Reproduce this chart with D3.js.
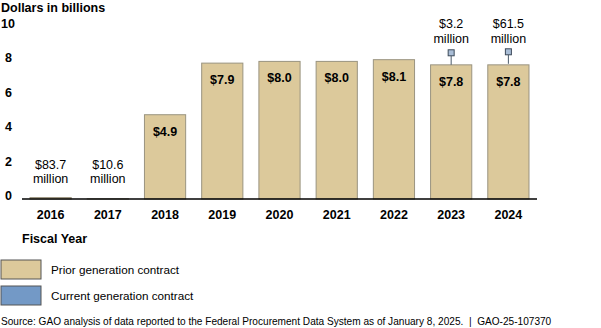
<!DOCTYPE html>
<html>
<head>
<meta charset="utf-8">
<script src="https://cdn.jsdelivr.net/npm/d3@7"></script>
<style>
  body { margin: 0; background: #fff; }
  svg { font-family: "Liberation Sans", Arial, sans-serif; }
</style>
</head>
<body>
<script>
// chart size
let w = 601;
let h = 328;

// data
let years = ["2016", "2017", "2018", "2019", "2020", "2021", "2022", "2023", "2024"];
let prior = [0.0837, 0.0106, 4.9, 7.9, 8.0, 8.0, 8.1, 7.8, 7.8];        // billions
let current = [0, 0, 0, 0, 0, 0, 0, 0.0032, 0.0615];                      // billions
let priorLabels = [["$83.7", "million"], ["$10.6", "million"], "$4.9", "$7.9", "$8.0", "$8.0", "$8.1", "$7.8", "$7.8"];
let currentLabels = ["", "", "", "", "", "", "", "$3.2 million", "$61.5 million"];
let yTicks = [0, 2, 4, 6, 8, 10];
let legendItems = ["Prior generation contract", "Current generation contract"];

let colPrior = "#dcc99b";
let colCurrent = "#7399c6";

let svg = d3.select("body").append("svg")
  .attr("width", w)
  .attr("height", h);

let x = d3.scaleBand().domain(years).range([22, 537]).paddingInner(0.28).paddingOuter(0.14);
let y = d3.scaleLinear().domain([0, 10]).range([199, 27]);

// y axis title
svg.append("text")
  .attr("x", 1).attr("y", 12)
  .style("font-size", "12.5px").style("font-weight", "bold")
  .text("Dollars in billions");

// y tick labels
svg.selectAll(".ytick")
  .data(yTicks)
  .enter().append("text")
  .attr("x", function(d) { return d === 10 ? 1 : 5; })
  .attr("y", function(d) { return y(d) + 1; })
  .style("font-size", "12.5px").style("font-weight", "bold")
  .text(function(d) { return d; });

// prior bars
svg.selectAll(".bar")
  .data(years)
  .enter().append("rect")
  .attr("x", function(d) { return x(d); })
  .attr("width", x.bandwidth())
  .attr("y", function(d, i) { return y(prior[i]); })
  .attr("height", function(d, i) { return y(0) - y(prior[i]); })
  .attr("fill", colPrior)
  .attr("stroke", "#9a9480")
  .attr("stroke-width", 1);

// baseline
svg.append("line")
  .attr("x1", 22).attr("x2", 537)
  .attr("y1", y(0)).attr("y2", y(0))
  .attr("stroke", "#000").attr("stroke-width", 1.6);

// value labels
years.forEach(function(d, i) {
  let cx = x(d) + x.bandwidth() / 2;
  let lab = priorLabels[i];
  if (Array.isArray(lab)) {
    let t = svg.append("text")
      .attr("text-anchor", "middle")
      .style("font-size", "12.5px");
    t.append("tspan").attr("x", cx).attr("y", 169).text(lab[0]);
    t.append("tspan").attr("x", cx).attr("y", 183).text(lab[1]);
  } else {
    svg.append("text")
      .attr("x", cx).attr("y", y(prior[i]) + 21)
      .attr("text-anchor", "middle")
      .style("font-size", "12.5px").style("font-weight", "bold")
      .text(lab);
  }

  // current generation markers
  if (current[i] > 0) {
    let top = y(prior[i] + current[i]);
    svg.append("line")
      .attr("x1", cx).attr("x2", cx)
      .attr("y1", top).attr("y2", top - 9)
      .attr("stroke", "#4a5a6a").attr("stroke-width", 1);
    svg.append("rect")
      .attr("x", cx - 3).attr("y", top - 15)
      .attr("width", 6).attr("height", 6)
      .attr("fill", "#a9bdd6")
      .attr("stroke", "#3d4b5a").attr("stroke-width", 1);
    let parts = currentLabels[i].split(" ");
    let t = svg.append("text")
      .attr("text-anchor", "middle")
      .style("font-size", "12.5px");
    t.append("tspan").attr("x", cx).attr("y", 28).text(parts[0]);
    t.append("tspan").attr("x", cx).attr("y", 43).text(parts[1]);
  }
});

// x tick labels
svg.selectAll(".xtick")
  .data(years)
  .enter().append("text")
  .attr("x", function(d) { return x(d) + x.bandwidth() / 2; })
  .attr("y", 219)
  .attr("text-anchor", "middle")
  .style("font-size", "12.5px").style("font-weight", "bold")
  .text(function(d) { return d; });

svg.append("text")
  .attr("x", 22).attr("y", 243)
  .style("font-size", "12.5px").style("font-weight", "bold")
  .text("Fiscal Year");

// legend
let legend = svg.selectAll(".legend")
  .data(legendItems)
  .enter().append("g")
  .attr("transform", function(d, i) { return "translate(1," + (260 + i * 26) + ")"; });

legend.append("rect")
  .attr("width", 40).attr("height", 19)
  .attr("fill", function(d, i) { return i === 0 ? colPrior : colCurrent; })
  .attr("stroke", "#555").attr("stroke-width", 1);

legend.append("text")
  .attr("x", 50).attr("y", 14)
  .style("font-size", "11.7px")
  .text(function(d) { return d; });

// source
svg.append("text")
  .attr("x", 1).attr("y", 325)
  .attr("xml:space", "preserve")
  .style("font-size", "10.1px")
  .text("Source: GAO analysis of data reported to the Federal Procurement Data System as of January 8, 2025.  |  GAO-25-107370");
</script>
</body>
</html>
